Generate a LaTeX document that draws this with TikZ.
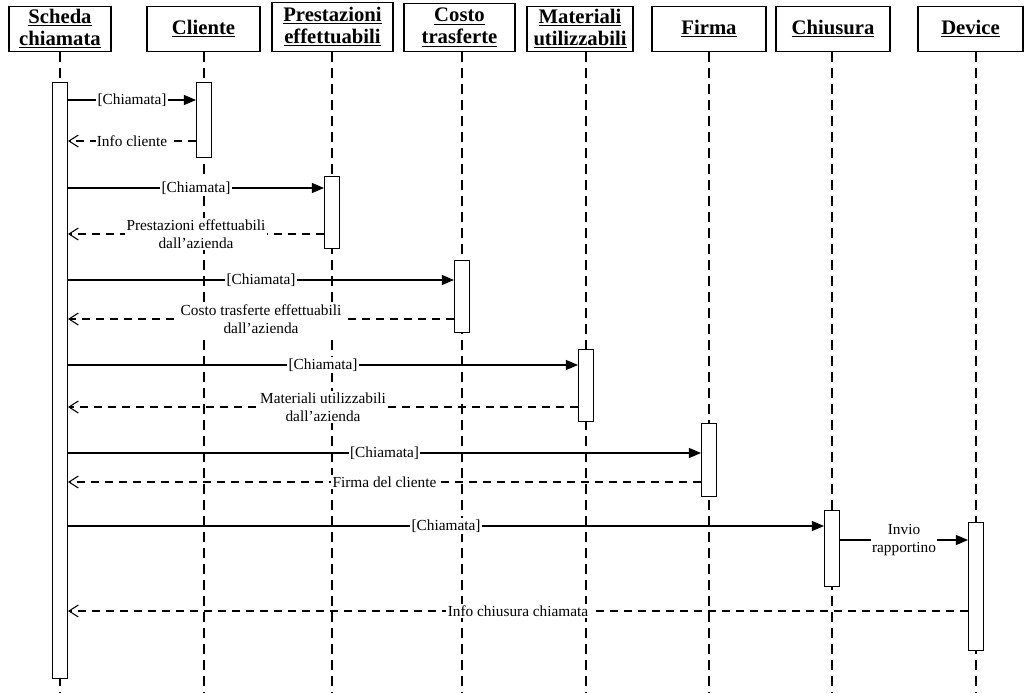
\documentclass[tikz,border=0pt]{standalone}
\usepackage{fontspec}
\setmainfont{Liberation Serif}
\usetikzlibrary{arrows.meta,backgrounds}
\tikzset{
  objbox/.style={draw=black,line width=0.9pt,fill=white,align=center,
    inner sep=0pt,minimum height=33.75pt,anchor=south,
    font=\fontsize{15.5}{16.5}\selectfont\bfseries},
  lifeline/.style={draw=black,line width=0.8pt,dash pattern=on 7.5pt off 4.5pt},
  actbar/.style={draw=black,line width=0.8pt,fill=white,minimum width=11.25pt,
    inner sep=0pt,anchor=north},
  call/.style={-{Triangle[length=9pt,width=7.5pt]},line width=0.8pt},
  reply/.style={-{Straight Barb[length=7pt,width=9pt]},line width=0.8pt,
    dash pattern=on 6pt off 4.5pt},
  msg/.style={fill=white,inner sep=1pt,align=center,
    font=\fontsize{11.5}{13.5}\selectfont}
}

\begin{document}
\begin{tikzpicture}[x=0.75pt,y=-0.75pt]
  \useasboundingbox (0,0) rectangle (1027,693);

  % objects
  \node[objbox,minimum width=76.5pt] (scheda) at (60,52) {\underline{Scheda}\\\underline{chiamata}};
  \node[objbox,minimum width=84.75pt] (cliente) at (203.5,52) {\underline{Cliente}};
  \node[objbox,minimum width=90.75pt,minimum height=36.75pt] (prest) at (332.5,52) {\underline{Prestazioni}\\\underline{effettuabili}};
  \node[objbox,minimum width=83.25pt,minimum height=36pt] (costo) at (459.5,52) {\underline{Costo}\\\underline{trasferte}};
  \node[objbox,minimum width=79.5pt] (mater) at (580,52) {\underline{Materiali}\\\underline{utilizzabili}};
  \node[objbox,minimum width=85.5pt] (firma) at (709,52) {\underline{Firma}};
  \node[objbox,minimum width=85.5pt] (chius) at (833,52) {\underline{Chiusura}};
  \node[objbox,minimum width=78.75pt] (device) at (970.5,52) {\underline{Device}};

  % activations
  \node[actbar,minimum height=447pt] (sb) at (60,82) {};
  \node[actbar,minimum height=56.25pt] (cb) at (204,82) {};
  \node[actbar,minimum height=54pt] (pb) at (332,176) {};
  \node[actbar,minimum height=54pt] (tb) at (462,260) {};
  \node[actbar,minimum height=54pt] (mb) at (586,349) {};
  \node[actbar,minimum height=54.75pt] (fb) at (709,423) {};
  \node[actbar,minimum height=57pt] (kb) at (832,510) {};
  \node[actbar,minimum height=96pt] (db) at (976,522) {};

  % lifelines, behind the activations
  \begin{scope}[on background layer]
    \draw[lifeline] (sb |- scheda.south) -- (sb |- 0,693);
    \draw[lifeline] (cb |- cliente.south) -- (cb |- 0,693);
    \draw[lifeline] (pb |- prest.south) -- (pb |- 0,693);
    \draw[lifeline] (tb |- costo.south) -- (tb |- 0,693);
    \draw[lifeline] (mb |- mater.south) -- (mb |- 0,693);
    \draw[lifeline] (fb |- firma.south) -- (fb |- 0,693);
    \draw[lifeline] (kb |- chius.south) -- (kb |- 0,693);
    \draw[lifeline] (db |- device.south) -- (db |- 0,693);
  \end{scope}

  % messages
  \draw[call] (sb.east |- 0,100) -- node[msg] (m1) {[Chiamata]} (cb.west |- 0,100);
  \draw[reply] (cb.west |- 0,141) -- node[msg] (m2) {Info cliente} (sb.east |- 0,141);
  \draw[call] (sb.east |- 0,188) -- node[msg] (m3) {[Chiamata]} (pb.west |- 0,188);
  \draw[reply] (pb.west |- 0,234) -- node[msg] (m4) {Prestazioni effettuabili\\dall'azienda} (sb.east |- 0,234);
  \draw[call] (sb.east |- 0,280) -- node[msg] (m5) {[Chiamata]} (tb.west |- 0,280);
  \draw[reply] (tb.west |- 0,319) -- node[msg] (m6) {Costo trasferte effettuabili\\dall'azienda} (sb.east |- 0,319);
  \draw[call] (sb.east |- 0,365) -- node[msg] (m7) {[Chiamata]} (mb.west |- 0,365);
  \draw[reply] (mb.west |- 0,407) -- node[msg] (m8) {Materiali utilizzabili\\dall'azienda} (sb.east |- 0,407);
  \draw[call] (sb.east |- 0,453) -- node[msg] (m9) {[Chiamata]} (fb.west |- 0,453);
  \draw[reply] (fb.west |- 0,482) -- node[msg] (m10) {Firma del cliente} (sb.east |- 0,482);
  \draw[call] (sb.east |- 0,526) -- node[msg] (m11) {[Chiamata]} (kb.west |- 0,526);
  \draw[call] (kb.east |- 0,540) -- node[msg] (m12) {Invio\\rapportino} (db.west |- 0,540);
  \draw[reply] (db.west |- 0,611) -- node[msg] (m13) {Info chiusura chiamata} (sb.east |- 0,611);
\end{tikzpicture}
\end{document}
